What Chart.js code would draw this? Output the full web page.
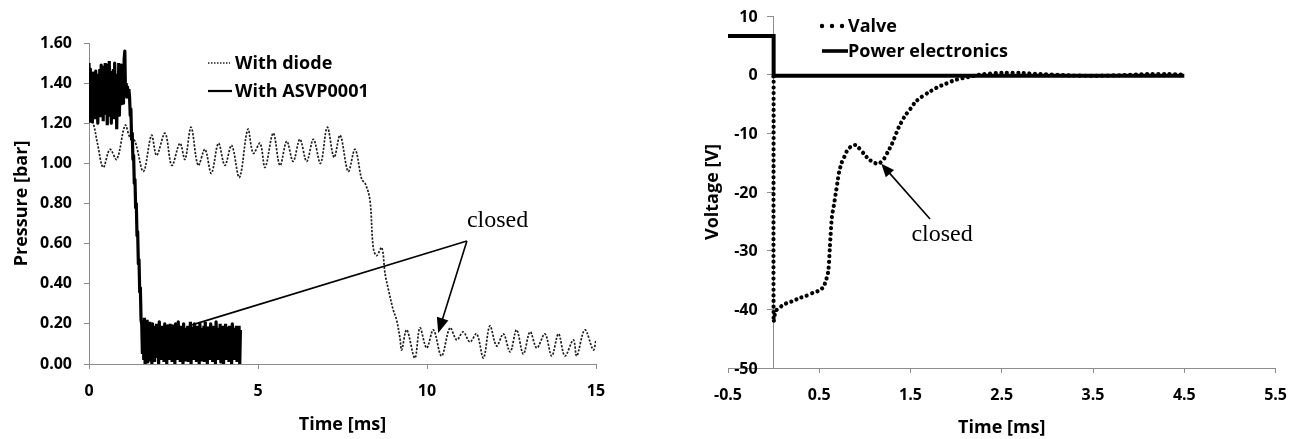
<!DOCTYPE html>
<html>
<head>
<meta charset="utf-8">
<script src="https://cdn.jsdelivr.net/npm/chart.js@4.4.1/dist/chart.umd.min.js"></script>
<style>
  html, body { margin: 0; padding: 0; background: #fff; }
  #wrap { position: relative; width: 1300px; height: 439px; }
  canvas { position: absolute; top: 0; }
  #pressureChart { left: 0; }
  #voltageChart { left: 650px; }
</style>
</head>
<body>
<div id="wrap">
  <canvas id="pressureChart" width="650" height="439"></canvas>
  <canvas id="voltageChart" width="650" height="439"></canvas>
</div>
<script>
// ---------- left chart: pressure ----------
const pressureTimeTicks = [0, 5, 10, 15];
const pressureTicks = [0, 0.2, 0.4, 0.6, 0.8, 1.0, 1.2, 1.4, 1.6];

// dotted trace "With diode"
const diodeTime = [0, 0.12, 0.25, 0.42, 0.62, 0.82, 1.07, 1.21, 1.36, 1.61,
  1.85, 2.00, 2.25, 2.45, 2.69, 2.84, 3.02, 3.23, 3.43, 3.62,
  3.83, 4.02, 4.22, 4.45, 4.70, 4.86, 5.06, 5.21, 5.45, 5.65,
  5.85, 6.04, 6.24, 6.44, 6.64, 6.85, 7.05, 7.25, 7.43, 7.67,
  7.87, 8.07, 8.17, 8.31, 8.41, 8.51, 8.66, 8.76, 8.86, 9.00,
  9.10, 9.20, 9.25, 9.40, 9.64, 9.79, 9.99, 10.19, 10.43, 10.68,
  10.88, 11.07, 11.27, 11.47, 11.67, 11.86, 12.06, 12.26, 12.46, 12.65,
  12.85, 13.05, 13.25, 13.49, 13.69, 13.89, 14.08, 14.33, 14.43, 14.67,
  14.92, 15.00];
const diodePressure = [1.22, 1.20, 1.10, 0.98, 1.07, 1.02, 1.19, 1.13, 1.11, 0.96,
  1.14, 1.04, 1.15, 0.99, 1.10, 1.02, 1.18, 0.99, 1.07, 0.95,
  1.10, 0.99, 1.09, 0.93, 1.17, 1.05, 1.10, 0.98, 1.15, 0.99,
  1.11, 1.01, 1.12, 1.01, 1.12, 1.00, 1.18, 1.03, 1.14, 0.96,
  1.07, 0.92, 0.90, 0.82, 0.58, 0.54, 0.58, 0.45, 0.37, 0.27,
  0.22, 0.13, 0.07, 0.17, 0.03, 0.18, 0.08, 0.17, 0.04, 0.18,
  0.12, 0.16, 0.11, 0.15, 0.03, 0.19, 0.09, 0.15, 0.06, 0.17,
  0.05, 0.16, 0.08, 0.15, 0.04, 0.15, 0.04, 0.12, 0.04, 0.17,
  0.07, 0.12];

// noisy solid trace "With ASVP0001"
const asvpTime = [
  0.00, 0.02, 0.04, 0.06, 0.08, 0.10, 0.12, 0.14, 0.16, 0.18,
  0.20, 0.22, 0.24, 0.26, 0.28, 0.30, 0.32, 0.34, 0.36, 0.38,
  0.40, 0.42, 0.44, 0.46, 0.48, 0.50, 0.52, 0.54, 0.56, 0.58,
  0.60, 0.62, 0.64, 0.66, 0.68, 0.70, 0.72, 0.74, 0.76, 0.78,
  0.80, 0.82, 0.84, 0.86, 0.88, 0.90, 0.92, 0.94, 0.96, 0.98,
  1.00, 1.02, 1.04, 1.06, 1.08, 1.10, 1.12, 1.14, 1.16, 1.18,
  1.20, 1.22, 1.24, 1.26, 1.28, 1.30, 1.32, 1.34, 1.36, 1.38,
  1.40, 1.42, 1.44, 1.46, 1.48, 1.50, 1.52, 1.54, 1.56, 1.58,
  1.60, 1.62, 1.64, 1.66, 1.68, 1.70, 1.72, 1.74, 1.76, 1.78,
  1.80, 1.82, 1.84, 1.86, 1.88, 1.90, 1.92, 1.94, 1.96, 1.98,
  2.00, 2.02, 2.04, 2.06, 2.08, 2.10, 2.12, 2.14, 2.16, 2.18,
  2.20, 2.22, 2.24, 2.26, 2.28, 2.30, 2.32, 2.34, 2.36, 2.38,
  2.40, 2.42, 2.44, 2.46, 2.48, 2.50, 2.52, 2.54, 2.56, 2.58,
  2.60, 2.62, 2.64, 2.66, 2.68, 2.70, 2.72, 2.74, 2.76, 2.78,
  2.80, 2.82, 2.84, 2.86, 2.88, 2.90, 2.92, 2.94, 2.96, 2.98,
  3.00, 3.02, 3.04, 3.06, 3.08, 3.10, 3.12, 3.14, 3.16, 3.18,
  3.20, 3.22, 3.24, 3.26, 3.28, 3.30, 3.32, 3.34, 3.36, 3.38,
  3.40, 3.42, 3.44, 3.46, 3.48, 3.50, 3.52, 3.54, 3.56, 3.58,
  3.60, 3.62, 3.64, 3.66, 3.68, 3.70, 3.72, 3.74, 3.76, 3.78,
  3.80, 3.82, 3.84, 3.86, 3.88, 3.90, 3.92, 3.94, 3.96, 3.98,
  4.00, 4.02, 4.04, 4.06, 4.08, 4.10, 4.12, 4.14, 4.16, 4.18,
  4.20, 4.22, 4.24, 4.26, 4.28, 4.30, 4.32, 4.34, 4.36, 4.38,
  4.40, 4.42, 4.44, 4.46, 4.48];
const asvpPressure = [
  1.50, 1.21, 1.47, 1.25, 1.44, 1.20, 1.45, 1.28, 1.42, 1.22,
  1.46, 1.30, 1.44, 1.20, 1.40, 1.26, 1.47, 1.23, 1.49, 1.29,
  1.42, 1.21, 1.48, 1.27, 1.50, 1.25, 1.44, 1.19, 1.49, 1.30,
  1.51, 1.24, 1.46, 1.20, 1.40, 1.25, 1.47, 1.22, 1.50, 1.28,
  1.44, 1.17, 1.43, 1.26, 1.50, 1.24, 1.47, 1.29, 1.49, 1.33,
  1.45, 1.30, 1.52, 1.56, 1.34, 1.40, 1.33, 1.38, 1.34, 1.37,
  1.33, 1.24, 1.27, 1.12, 1.15, 1.02, 1.04, 0.90, 0.92, 0.78,
  0.80, 0.64, 0.66, 0.50, 0.52, 0.36, 0.38, 0.22, 0.20, 0.05,
  0.21, 0.02, 0.23, 0.00, 0.20, 0.04, 0.22, 0.01, 0.19, 0.05,
  0.21, 0.02, 0.18, 0.00, 0.20, 0.04, 0.17, 0.01, 0.19, 0.03,
  0.20, 0.05, 0.18, 0.00, 0.21, 0.03, 0.17, 0.02, 0.19, 0.04,
  0.16, 0.01, 0.20, 0.05, 0.18, 0.00, 0.19, 0.03, 0.15, 0.02,
  0.20, 0.04, 0.17, 0.01, 0.19, 0.06, 0.16, 0.00, 0.20, 0.03,
  0.18, 0.02, 0.21, 0.05, 0.17, 0.01, 0.19, 0.03, 0.16, 0.00,
  0.20, 0.04, 0.18, 0.02, 0.15, 0.05, 0.19, 0.01, 0.17, 0.03,
  0.21, 0.00, 0.18, 0.04, 0.16, 0.02, 0.20, 0.05, 0.17, 0.01,
  0.19, 0.03, 0.16, 0.00, 0.20, 0.04, 0.18, 0.02, 0.15, 0.05,
  0.19, 0.01, 0.21, 0.03, 0.17, 0.00, 0.18, 0.04, 0.16, 0.02,
  0.20, 0.05, 0.17, 0.01, 0.19, 0.03, 0.15, 0.00, 0.21, 0.04,
  0.18, 0.02, 0.16, 0.05, 0.20, 0.01, 0.17, 0.03, 0.19, 0.00,
  0.16, 0.04, 0.20, 0.02, 0.18, 0.05, 0.15, 0.01, 0.19, 0.03,
  0.17, 0.00, 0.20, 0.04, 0.18, 0.02, 0.16, 0.05, 0.19, 0.01,
  0.18, 0.03, 0.19, 0.00, 0.17];

// ---------- right chart: voltage ----------
const voltageTimeTicks = [-0.5, 0.5, 1.5, 2.5, 3.5, 4.5, 5.5];
const voltageTicks = [-50, -40, -30, -20, -10, 0, 10];

const valveTime = [0, 0, 0.02, 0.05, 0.10, 0.15, 0.21, 0.28, 0.355, 0.43,
  0.50, 0.545, 0.573, 0.60, 0.616, 0.638, 0.663, 0.68, 0.70, 0.717,
  0.745, 0.772, 0.81, 0.86, 0.90, 0.935, 0.99, 1.04, 1.10, 1.152,
  1.207, 1.25, 1.297, 1.37, 1.44, 1.50, 1.55, 1.62, 1.70, 1.80,
  1.88, 1.99, 2.1, 2.2, 2.3, 2.5, 2.7, 2.9, 3.2, 3.5,
  3.8, 4.1, 4.3, 4.5];
const valveVoltage = [-0.3, -42.1, -40.3, -39.9, -39.3, -38.9, -38.6, -38.1, -37.7, -37.2,
  -36.8, -36.2, -35.1, -33.4, -29.4, -24.3, -22.0, -20.3, -18.3, -16.6,
  -15.0, -14.1, -12.8, -12.1, -12.0, -12.5, -13.5, -14.4, -15.0, -15.2,
  -14.4, -13.2, -11.8, -9.0, -7.0, -5.8, -4.7, -3.8, -3.0, -2.1,
  -1.6, -0.9, -0.5, -0.2, 0.1, 0.3, 0.3, 0.1, -0.1, -0.2,
  -0.1, 0.1, 0.1, 0.0];

const powerTime = [-0.5, 0, 0, 4.5];
const powerVoltage = [6.6, 6.6, -0.2, -0.2];

// annotation anchors, in data units
const pressureNote = { label: [11.18, 0.713], from: [11.18, 0.613], to: [[3.05, 0.195, false], [10.33, 0.155, true]] };
const voltageNote = { label: [1.51, -27.2], from: [1.714, -24.6], to: [[1.18, -15.2, true]] };

// ---------- shared styling ----------
const FONT = "'Open Sans', 'DejaVu Sans', sans-serif";
const axisGray = '#8c8c8c';
const tickFont = { family: FONT, size: 16, weight: 'bold' };
const titleFont = { family: FONT, size: 18, weight: 'bold' };

const zip = (xs, ys) => xs.map((x, i) => ({ x: x, y: ys[i] }));
const fixedTicks = list => scale => { scale.ticks = list.map(v => ({ value: v })); };

function drawArrowHead(ctx, x1, y1, x2, y2, len, half) {
  const a = Math.atan2(y2 - y1, x2 - x1);
  ctx.beginPath();
  ctx.moveTo(x2, y2);
  ctx.lineTo(x2 - len * Math.cos(a) + half * Math.sin(a), y2 - len * Math.sin(a) - half * Math.cos(a));
  ctx.lineTo(x2 - len * Math.cos(a) - half * Math.sin(a), y2 - len * Math.sin(a) + half * Math.cos(a));
  ctx.closePath();
  ctx.fill();
}

// legend, "closed" callouts and (right chart) labels of the crossing axis
const extrasPlugin = {
  id: 'extras',
  afterDatasetsDraw(chart, args, opts) {
    const { ctx, chartArea } = chart;
    const xs = chart.scales.x, ys = chart.scales.y;
    const px = p => [xs.getPixelForValue(p[0]), ys.getPixelForValue(p[1])];
    ctx.save();

    // callout
    const note = opts.note;
    const [fx, fy] = px(note.from);
    ctx.strokeStyle = '#000';
    ctx.fillStyle = '#000';
    ctx.lineWidth = 1.6;
    note.to.forEach(t => {
      const [tx, ty] = px(t);
      const a = Math.atan2(ty - fy, tx - fx);
      const back = t[2] ? opts.headLen * 0.8 : 0;
      ctx.beginPath();
      ctx.moveTo(fx, fy);
      ctx.lineTo(tx - back * Math.cos(a), ty - back * Math.sin(a));
      ctx.stroke();
      if (t[2]) drawArrowHead(ctx, fx, fy, tx, ty, opts.headLen, opts.headHalf);
    });
    const [lx, ly] = px(note.label);
    ctx.font = "24px 'Liberation Serif', 'Times New Roman', serif";
    ctx.textAlign = 'left';
    ctx.textBaseline = 'middle';
    ctx.fillText('closed', lx, ly);

    // legend
    ctx.font = `bold 18px ${FONT}`;
    opts.legend.forEach((item, i) => {
      const x0 = chartArea.left + opts.legendX;
      const y0 = chartArea.top + opts.legendY + i * opts.legendGap;
      const ds = chart.data.datasets[item.ds];
      ctx.beginPath();
      ctx.setLineDash(item.dash || []);
      ctx.lineCap = item.cap || 'butt';
      ctx.lineWidth = item.width;
      ctx.strokeStyle = ds.borderColor;
      ctx.moveTo(x0, y0);
      ctx.lineTo(x0 + item.len, y0);
      ctx.stroke();
      ctx.setLineDash([]);
      ctx.fillStyle = '#000';
      ctx.fillText(ds.label, x0 + opts.textX, y0 + 1);
    });

    // tick labels for a y axis that crosses at x = 0
    if (opts.crossLabels) {
      const axisX = xs.getPixelForValue(0);
      ctx.font = `bold 16px ${FONT}`;
      ctx.textAlign = 'right';
      ctx.textBaseline = 'middle';
      opts.crossLabels.forEach(v => ctx.fillText(String(v), axisX - opts.crossGap, ys.getPixelForValue(v) + 1));
    }
    ctx.restore();
  }
};

// ---------- left chart ----------
new Chart(document.getElementById('pressureChart'), {
  type: 'line',
  data: {
    datasets: [
      // small tension keeps every sample in the path (no per-pixel fast path)
      { label: 'With ASVP0001', data: zip(asvpTime, asvpPressure), borderColor: '#000', borderWidth: 3.2,
        borderJoinStyle: 'bevel', pointRadius: 0, tension: 0.01, order: 0 },
      { label: 'With diode', data: zip(diodeTime, diodePressure), borderColor: '#1e1e1e', borderWidth: 1.7,
        borderDash: [2.2, 1.5], pointRadius: 0, tension: 0.35, order: 1 }
    ]
  },
  options: {
    responsive: false, animation: false, devicePixelRatio: 1,
    layout: { padding: { left: 0, top: 43, right: 54, bottom: 0 } },
    plugins: {
      legend: { display: false }, tooltip: { enabled: false },
      extras: {
        note: pressureNote, headLen: 15, headHalf: 6,
        legendX: 119, legendY: 20, legendGap: 28, textX: 27,
        legend: [
          { ds: 1, width: 1.4, dash: [1.5, 1.5], len: 22 },
          { ds: 0, width: 2.2, len: 24 }
        ]
      }
    },
    scales: {
      x: {
        type: 'linear', min: 0, max: 15,
        afterBuildTicks: fixedTicks(pressureTimeTicks),
        afterFit: s => { s.height = 75; },
        grid: { display: true, drawOnChartArea: false, tickLength: 5, color: axisGray },
        border: { color: axisGray, width: 1 },
        ticks: { padding: 13, font: tickFont, color: '#000', maxRotation: 0 },
        title: { display: true, text: 'Time [ms]', font: titleFont, color: '#000', padding: { top: 0, bottom: 3 } }
      },
      y: {
        type: 'linear', min: 0, max: 1.6,
        afterBuildTicks: fixedTicks(pressureTicks),
        afterFit: s => { s.width = 89; },
        grid: { display: true, drawOnChartArea: false, tickLength: 5, color: axisGray },
        border: { color: axisGray, width: 1 },
        ticks: { padding: 12, font: tickFont, color: '#000', callback: v => v.toFixed(2) },
        title: { display: true, text: 'Pressure [bar]', font: titleFont, color: '#000', padding: { top: 11, bottom: 0 } }
      }
    }
  },
  plugins: [extrasPlugin]
});

// ---------- right chart ----------
new Chart(document.getElementById('voltageChart'), {
  type: 'line',
  data: {
    datasets: [
      { label: 'Valve', data: zip(valveTime, valveVoltage), borderColor: '#000', borderWidth: 4.2,
        borderDash: [0.01, 5.6], borderCapStyle: 'round', pointRadius: 0, tension: 0.2, order: 0 },
      { label: 'Power electronics', data: zip(powerTime, powerVoltage), borderColor: '#000', borderWidth: 4,
        pointRadius: 0, tension: 0, order: 1 }
    ]
  },
  options: {
    responsive: false, animation: false, devicePixelRatio: 1,
    layout: { padding: { left: 0, top: 16, right: 20, bottom: 0 } },
    plugins: {
      legend: { display: false }, tooltip: { enabled: false },
      extras: {
        note: voltageNote, headLen: 13, headHalf: 5.5,
        legendX: 94, legendY: 10, legendGap: 25, textX: 26,
        legend: [
          { ds: 0, width: 4.4, dash: [0.01, 10], cap: 'round', len: 21 },
          { ds: 1, width: 3.6, len: 26 }
        ],
        crossLabels: voltageTicks, crossGap: 16
      }
    },
    scales: {
      x: {
        type: 'linear', min: -0.5, max: 5.5,
        afterBuildTicks: fixedTicks(voltageTimeTicks),
        afterFit: s => { s.height = 71; },
        grid: { display: true, drawOnChartArea: false, tickLength: 5, color: axisGray },
        border: { color: axisGray, width: 1 },
        ticks: { padding: 13, font: tickFont, color: '#000', maxRotation: 0 },
        title: { display: true, text: 'Time [ms]', font: titleFont, color: '#000', padding: { top: 0, bottom: 0 } }
      },
      // axis line crossing at t = 0
      y: {
        type: 'linear', min: -50, max: 10, position: { x: 0 },
        afterBuildTicks: fixedTicks(voltageTicks),
        grid: { display: true, drawOnChartArea: false, drawTicks: true, tickLength: 6, color: axisGray, tickColor: axisGray },
        border: { color: axisGray, width: 1 },
        ticks: { display: false }
      },
      // title of the vertical axis, kept at the left edge
      yTitle: {
        type: 'linear', min: -50, max: 10, position: 'left',
        afterFit: s => { s.width = 78; },
        grid: { display: false },
        border: { display: false },
        ticks: { display: false },
        title: { display: true, text: 'Voltage [V]', font: titleFont, color: '#000', padding: { top: 52, bottom: 0 } }
      }
    }
  },
  plugins: [extrasPlugin]
});
</script>
</body>
</html>
